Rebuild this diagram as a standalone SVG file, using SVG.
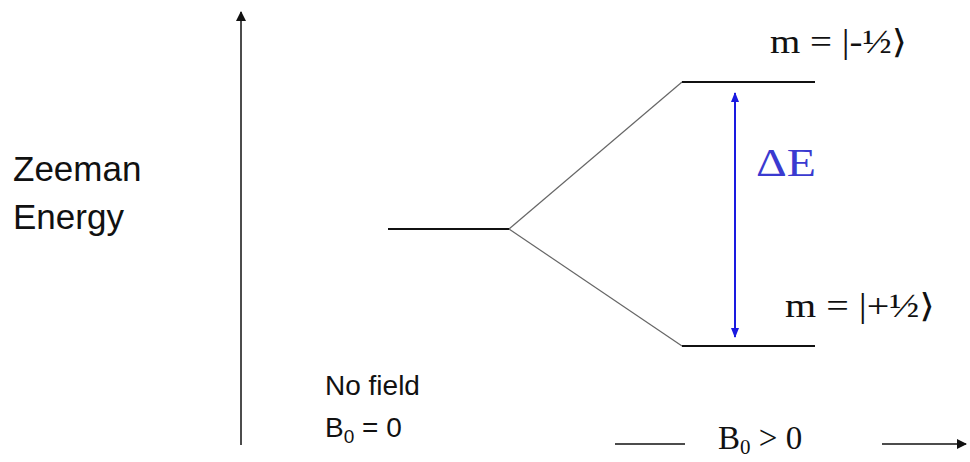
<svg xmlns="http://www.w3.org/2000/svg" width="970" height="462" viewBox="0 0 970 462">
<style>
.sans{font-family:"Liberation Sans","Open Sans",sans-serif;fill:#111}
.serif{font-family:"Liberation Serif","DejaVu Serif",serif;fill:#111}
.lvl{stroke:#111;stroke-width:2;fill:none}
.diag{stroke:#666;stroke-width:1.2;fill:none}
</style>
<defs>
<marker id="ah" markerWidth="10" markerHeight="10" refX="9" refY="5" orient="auto" markerUnits="userSpaceOnUse">
<path d="M0,0 L10,5 L0,10 z" fill="#111"/>
</marker>
<marker id="bh" markerWidth="10" markerHeight="10" refX="9" refY="5" orient="auto-start-reverse" markerUnits="userSpaceOnUse">
<path d="M0,1 L10,5 L0,9 z" fill="#1a1ae0"/>
</marker>
</defs>
<g id="connectors">
<line x1="241" y1="445" x2="241" y2="12" stroke="#111" stroke-width="1.5" marker-end="url(#ah)"/>
<line class="diag" x1="509" y1="229" x2="682" y2="82"/>
<line class="diag" x1="509" y1="229" x2="682" y2="346"/>
<line x1="735" y1="337" x2="735" y2="93" stroke="#1a1ae0" stroke-width="2" marker-start="url(#bh)" marker-end="url(#bh)"/>
<line x1="615" y1="444" x2="685" y2="444" stroke="#111" stroke-width="1.5"/>
<line x1="882" y1="444" x2="966" y2="444" stroke="#111" stroke-width="1.5" marker-end="url(#ah)"/>
</g>
<g id="axis-label">
<text class="sans" x="13" y="181" font-size="35">Zeeman</text>
<text class="sans" x="13" y="229" font-size="35">Energy</text>
</g>
<g id="level-zero">
<line class="lvl" x1="388" y1="229" x2="509" y2="229"/>
<text class="sans" x="325" y="395" font-size="28">No field</text>
<text class="sans" x="325" y="437" font-size="28">B<tspan font-size="19" dy="6">0</tspan><tspan dy="-6"> = 0</tspan></text>
</g>
<g id="level-upper">
<line class="lvl" x1="682" y1="82" x2="815" y2="82"/>
<text class="serif" x="770" y="53" font-size="33" textLength="137" lengthAdjust="spacingAndGlyphs">m = |-½⟩</text>
</g>
<g id="level-lower">
<line class="lvl" x1="682" y1="346" x2="815" y2="346"/>
<text class="serif" x="785" y="317" font-size="33" textLength="150" lengthAdjust="spacingAndGlyphs">m = |+½⟩</text>
</g>
<g id="delta-e">
<text x="756" y="176" font-size="40" font-family="Liberation Serif,serif" fill="#3a3ad0" textLength="60" lengthAdjust="spacingAndGlyphs">ΔE</text>
</g>
<g id="field-label">
<text class="serif" x="718" y="449" font-size="33">B<tspan font-size="21" dy="5">0</tspan><tspan dy="-5"> &gt; 0</tspan></text>
</g>
</svg>
